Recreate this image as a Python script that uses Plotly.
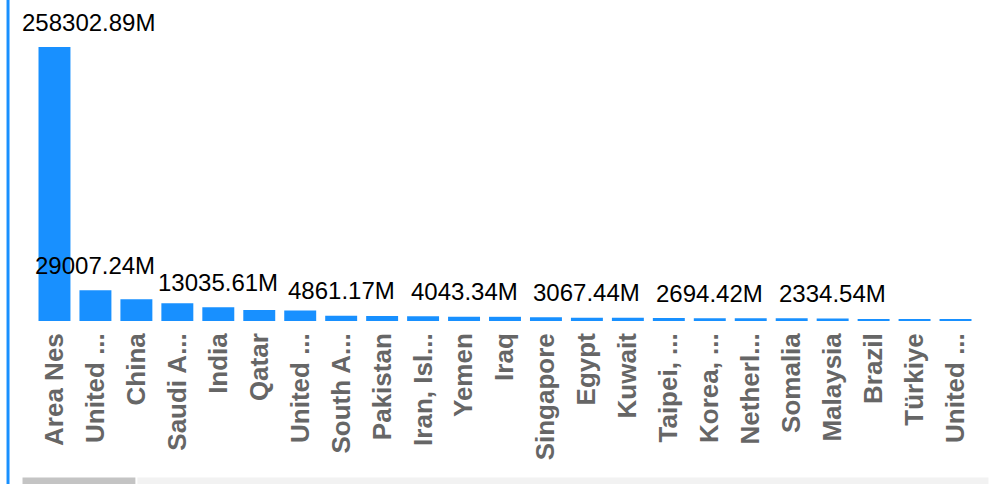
import plotly.graph_objects as go

categories = ["Area Nes", "United ...", "China", "Saudi A...", "India", "Qatar",
              "United ...", "South A...", "Pakistan", "Iran, Isl...", "Yemen", "Iraq",
              "Singapore", "Egypt", "Kuwait", "Taipei, ...", "Korea, ...", "Netherl...",
              "Somalia", "Malaysia", "Brazil", "Türkiye", "United ..."]
values = [258302.89, 29007.24, 20480, 16700, 13035.61, 10300,
          10000, 4861.17, 4800, 4400, 4043.34, 3950,
          3500, 3067.44, 2980, 2750, 2694.42, 2600,
          2480, 2334.54, 1900, 1800, 1700]
labeled_idx = [0, 1, 4, 7, 10, 13, 16, 19]

BLUE = "#1890ff"
W, H = 992, 484
ml, mr, mt, mb = 33.5, 15.5, 24, 163.3
pw, ph = W - ml - mr, H - mt - mb

xs = list(range(len(categories)))
fig = go.Figure(go.Bar(x=xs, y=values, marker_color=BLUE, marker_line_width=0,
                       width=0.78, hoverinfo="skip"))

for i in labeled_idx:
    first = (i == 0)
    fig.add_annotation(x=i, y=values[i], text=f"{values[i]:.2f}M", showarrow=False,
                       yanchor="middle", yshift=25,
                       xanchor="left" if first else "center",
                       xshift=-34 if first else 0,
                       font=dict(family="Liberation Sans, Arial", size=24, color="#000"))

def px2x(px):
    return (px - ml) / pw

def px2y(py):
    return (H - mb - py) / ph

shapes = [
    dict(type="rect", xref="paper", yref="paper", x0=px2x(6), x1=px2x(9),
         y0=px2y(H), y1=px2y(0), fillcolor=BLUE, line_width=0, layer="above"),
    dict(type="rect", xref="paper", yref="paper", x0=px2x(137), x1=px2x(989),
         y0=px2y(H), y1=px2y(477), fillcolor="#f2f2f2", line_width=0),
    dict(type="rect", xref="paper", yref="paper", x0=px2x(22), x1=px2x(135),
         y0=px2y(H), y1=px2y(477), fillcolor="#c4c4c4", line_width=0),
]

fig.update_layout(
    width=W, height=H,
    margin=dict(l=ml, r=mr, t=mt, b=mb, pad=0, autoexpand=False),
    plot_bgcolor="white", paper_bgcolor="white",
    showlegend=False, shapes=shapes,
    xaxis=dict(tickmode="array", tickvals=xs, ticktext=categories, tickangle=-90,
               range=[-0.5, len(categories) - 0.5], showgrid=False, zeroline=False,
               showline=False, ticks="", ticklabelstandoff=6, automargin=False,
               tickfont=dict(family="Liberation Sans, Arial", size=26, color="#666666",
                             weight="bold")),
    yaxis=dict(range=[0, 280000], visible=False, showgrid=False, zeroline=False),
)

fig.write_html("out.html", config={"displayModeBar": False},
               post_script="document.body.style.margin='0';document.body.style.overflow='hidden';")
